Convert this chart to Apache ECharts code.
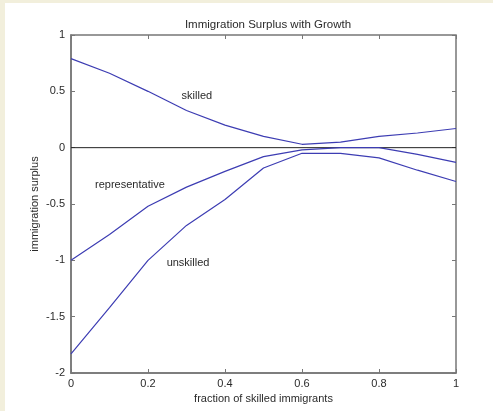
<!DOCTYPE html>
<html>
<head>
<meta charset="utf-8">
<script src="https://cdn.jsdelivr.net/npm/echarts@6/dist/echarts.min.js"></script>
<style>
html,body{margin:0;padding:0;width:493px;height:411px;background:#ffffff;overflow:hidden;}
#c{position:absolute;left:0;top:0;width:493px;height:411px;background:#ffffff;}
#bl{position:absolute;left:0;top:0;width:5px;height:411px;background:#f2efdc;z-index:5;}
#bt{position:absolute;left:0;top:0;width:493px;height:3px;background:#f2efdc;z-index:5;}
</style>
</head>
<body>
<div id="c"></div>
<div id="bl"></div>
<div id="bt"></div>
<script>
var xValues = [0, 0.1, 0.2, 0.3, 0.4, 0.5, 0.6, 0.7, 0.8, 0.9, 1.0];
var skilled = [0.79, 0.66, 0.50, 0.33, 0.20, 0.10, 0.03, 0.05, 0.10, 0.13, 0.17];
var representative = [-1.0, -0.77, -0.52, -0.35, -0.21, -0.08, -0.02, 0.0, 0.0, -0.06, -0.13];
var unskilled = [-1.83, -1.42, -1.0, -0.69, -0.46, -0.18, -0.05, -0.05, -0.09, -0.20, -0.30];
var zeroLine = [0, 0];
var zeroX = [0, 1];
var labelNames = ['skilled', 'representative', 'unskilled'];
var labelX = [0.327, 0.153, 0.304];
var labelY = [0.46, -0.33, -1.02];

function pairs(xs, ys) { return xs.map(function (x, i) { return [x, ys[i]]; }); }

var font = 'Liberation Sans, Arial, sans-serif';
var lineColor = '#3d3db3';
var axisColor = '#777777';
var textColor = '#2a2a2a';

var chart = echarts.init(document.getElementById('c'));

function seriesFor(name, ys, idx) {
  return {
    name: name, type: 'line', data: pairs(xValues, ys), showSymbol: false, symbol: 'none',
    lineStyle: { color: lineColor, width: 1.2 }, silent: true, animation: false, z: 3,
    markPoint: {
      symbol: 'circle', symbolSize: 0, animation: false,
      data: [{ coord: [labelX[idx], labelY[idx]], value: name }],
      label: { show: true, position: 'inside', formatter: labelNames[idx], color: textColor, fontSize: 11, fontFamily: font }
    }
  };
}

var baseAxisTick = { inside: true, length: 4, lineStyle: { color: axisColor } };
chart.setOption({
  animation: false,
  title: {
    text: 'Immigration Surplus with Growth', left: 263, top: 14, textAlign: 'center',
    textStyle: { fontSize: 11.5, fontWeight: 'normal', color: textColor, fontFamily: font }
  },
  grid: { left: 71, right: 37, top: 35, bottom: 38, show: true, borderColor: axisColor, borderWidth: 1.5 },
  xAxis: [{
    type: 'value', min: 0, max: 1, interval: 0.2, position: 'bottom',
    name: 'fraction of skilled immigrants', nameLocation: 'middle', nameGap: 20,
    nameTextStyle: { fontSize: 11, color: textColor, fontFamily: font },
    axisLine: { show: true, onZero: false, lineStyle: { color: axisColor, width: 1.5 } },
    axisTick: baseAxisTick,
    axisLabel: { color: textColor, fontSize: 11, fontFamily: font, margin: 5 },
    splitLine: { show: false }
  }, {
    type: 'value', min: 0, max: 1, interval: 0.2, position: 'top',
    axisLine: { show: false, onZero: false }, axisTick: baseAxisTick, axisLabel: { show: false }, splitLine: { show: false }
  }],
  yAxis: [{
    type: 'value', min: -2, max: 1, interval: 0.5, position: 'left',
    name: 'immigration surplus', nameLocation: 'middle', nameGap: 31, nameRotate: 90, nameMoveOverlap: false,
    nameTextStyle: { fontSize: 11, color: textColor, fontFamily: font },
    axisLine: { show: true, onZero: false, lineStyle: { color: axisColor, width: 1.5 } },
    axisTick: baseAxisTick,
    axisLabel: { color: textColor, fontSize: 11, fontFamily: font, margin: 6 },
    splitLine: { show: false }
  }, {
    type: 'value', min: -2, max: 1, interval: 0.5, position: 'right',
    axisLine: { show: false, onZero: false }, axisTick: baseAxisTick, axisLabel: { show: false }, splitLine: { show: false }
  }],
  series: [
    {
      name: 'zero', type: 'line', data: pairs(zeroX, zeroLine), showSymbol: false, symbol: 'none',
      lineStyle: { color: '#222222', width: 1 }, silent: true, z: 2
    },
    seriesFor('skilled', skilled, 0),
    seriesFor('representative', representative, 1),
    seriesFor('unskilled', unskilled, 2)
  ]
});
</script>
</body>
</html>
